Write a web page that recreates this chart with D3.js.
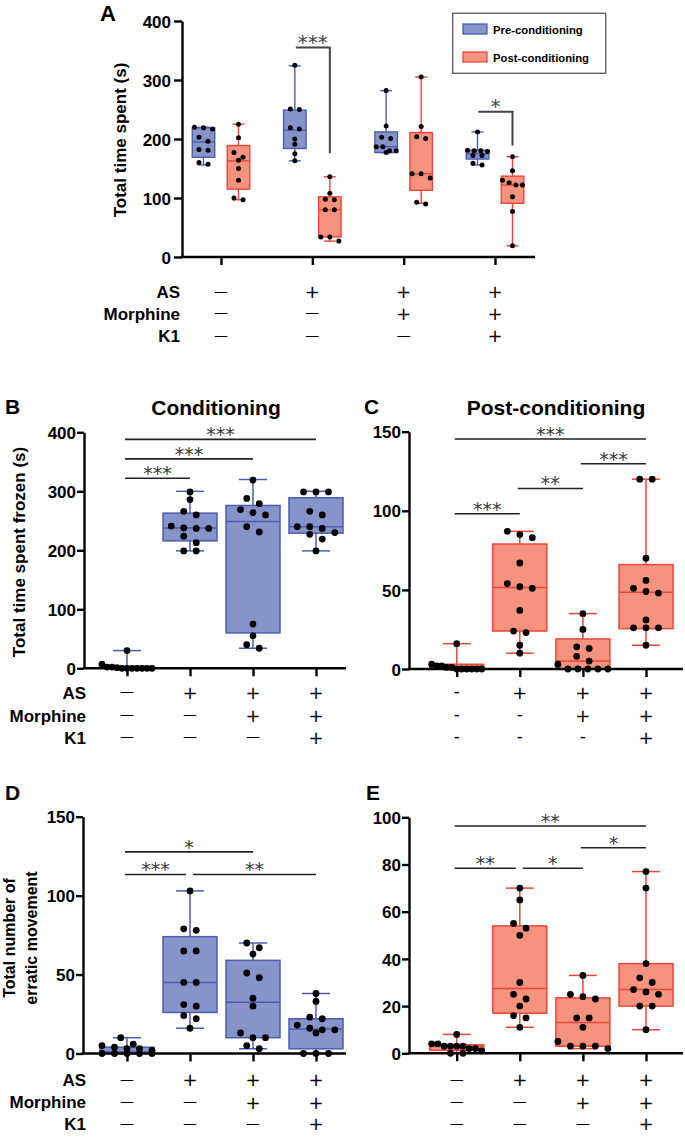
<!DOCTYPE html>
<html><head><meta charset="utf-8">
<script src="https://cdn.jsdelivr.net/npm/d3@7"></script>
<style>body{margin:0;background:#fff}svg{display:block}</style>
</head><body>
<svg id="chart" width="685" height="1139"></svg>
<script>
// ---------------- DATA ----------------
const groups = ["G1", "G2", "G3", "G4"];
const tableLabels = ["AS", "Morphine", "K1"];
const signsDash = [["—","+","+","+"],["—","—","+","+"],["—","—","—","+"]];
const signsHyphen = [["-","+","+","+"],["-","-","+","+"],["-","-","-","+"]];
const seriesNames = ["Pre-conditioning", "Post-conditioning"];

// Panel A : total time spent (s)
const aTicks = [0, 100, 200, 300, 400];
const aPrePoints = [[220,219,217,203,196,182,181,160,157],[325,250,251,217,219,200,191,175,163],[282,222,201,203,187,187,177,180,180],[212,179,180,180,181,172,172,156,159]];
const aPostPoints = [[225,202,177,169,164,150,130,97,100],[136,108,97,98,80,80,34,34,27],[305,221,201,204,141,141,134,90,93],[170,146,126,122,130,122,102,77,19]];
const aPreBox = [[156,169,195,219,220],[163,184,215,249,324],[177,177,187,212,282],[156,166,175,181,212]]; // min,q1,med,q3,max
const aPostBox = [[97,115,163,189,225],[27,34,80,102,136],[91,113,141,211,305],[19,91,122,137,170]];
const aSig = [{group:1, level:355, end:176, label:"***"},{group:3, level:246, end:189, label:"*"}];

// Panel B : Conditioning, time frozen (s)
const bTicks = [0, 100, 200, 300, 400];
const bPoints = [[30,7,2,2,1,0,0,0,0,0,0,0],[299,286,266,260,241,238,237,237,224,213,199,199],[319,288,279,269,264,260,240,231,75,55,40,34],[299,299,299,266,260,240,240,237,230,227,219,199]];
const bBox = [[0,0,1,3,30],[199,216,238,263,300],[34,60,249,276,320],[199,229,240,289,300]];
const bSig = [{a:0,b:3,level:388,label:"***"},{a:0,b:2,level:355,label:"***"},{a:0,b:1,level:322,label:"***"}];

// Panel C : Post-conditioning, time frozen (s)
const cTicks = [0, 50, 100, 150];
const cPoints = [[16,3,2,2,1,1,0,0,0,0,0,0],[87,85,83,67,54,52,51,37,24,23,15,10],[35,25,14,13,8,5,3,0,0,0,0,0],[120,120,70,56,51,49,48,31,26,26,26,15]];
const cBox = [[0,0,1,3,16],[10,24,51.5,79,87],[0,0,5,19,35],[15,25.5,48.5,66,120]];
const cSig = [{a:0,b:3,level:145.4,label:"***"},{a:2,b:3,level:129.7,label:"***"},{a:1,b:2,level:114.1,label:"**"},{a:0,b:1,level:98.1,label:"***"}];

// Panel D : erratic movement (Conditioning)
const dTicks = [0, 50, 100, 150];
const dPoints = [[10,6,5,4,3,3,2,0,0,0,0,0],[103,79,78,65,65,45,45,31,30,24,22,16],[70,67,63,51,48,35,30,13,10,10,5,3],[38,33,23,22,18,16,15,15,13,0,0,0]];
const dBox = [[0,0,1,4,10],[16,26,45,74,103],[3,10,32.5,59,70],[0,3,15.5,22,38]];
const dSig = [{a:0,b:2,level:127.7,label:"*"},{a:0,b:1,level:113.4,label:"***"},{a:1,b:3,level:113.4,label:"**"}];

// Panel E : erratic movement (Post-conditioning)
const eTicks = [0, 20, 40, 60, 80, 100];
const ePoints = [[8,4,4,3,3,3,3,2,2,1,0,0],[70,65,55,53,50,30,25,23,20,16,15,11],[33,25,24,23,15,15,11,5,3,3,3,2],[77,70,38,32,30,27,26,25,20,20,10]];
const eBox = [[0,1.3,3,3.6,8],[11,17,27.5,54,70],[2,3,13,23.5,33],[10,20,27,38,77]];
const eSig = [{a:0,b:3,level:96.3,label:"**"},{a:2,b:3,level:87.1,label:"*"},{a:0,b:1,level:78.4,label:"**"},{a:1,b:2,level:78.4,label:"*"}];

// ---------------- STYLE ----------------
const FONT = "'Liberation Sans', Arial, Helvetica, sans-serif";
const SYMFONT = "'DejaVu Sans', sans-serif";
const BLUE = {fill:"#8794ca", stroke:"#4b5db2"};
const RED = {fill:"#f5937f", stroke:"#ee4638"};

const svg = d3.select("#chart");

function swarm(values, y, spacing, maxW, thresh) {
  const sorted = values.map(v => ({v, py: y(v)})).sort((a, b) => a.py - b.py);
  const bins = [];
  sorted.forEach(p => {
    const b = bins[bins.length - 1];
    if (b && p.py - b[0].py < thresh) b.push(p); else bins.push([p]);
  });
  const out = [];
  bins.forEach(b => {
    const n = b.length;
    const s = n > 1 ? Math.min(spacing, maxW / (n - 1)) : 0;
    b.forEach((p, i) => out.push({v: p.v, dx: (i - (n - 1) / 2) * s}));
  });
  return out;
}

function drawBox(cx, y, stats, pts, col, st) {
  const [mn, q1, md, q3, mx] = stats;
  const g = svg.append("g");
  g.append("line").attr("x1", cx).attr("x2", cx).attr("y1", y(mx)).attr("y2", y(mn))
    .attr("stroke", col.stroke).attr("stroke-width", st.lw);
  [mn, mx].forEach(v => g.append("line").attr("x1", cx - st.cap / 2).attr("x2", cx + st.cap / 2)
    .attr("y1", y(v)).attr("y2", y(v)).attr("stroke", col.stroke).attr("stroke-width", st.lw));
  g.append("rect").attr("x", cx - st.w / 2).attr("y", y(q3)).attr("width", st.w)
    .attr("height", Math.max(0.5, y(q1) - y(q3)))
    .attr("fill", col.fill).attr("stroke", col.stroke).attr("stroke-width", st.lw);
  g.append("line").attr("x1", cx - st.w / 2).attr("x2", cx + st.w / 2).attr("y1", y(md)).attr("y2", y(md))
    .attr("stroke", col.stroke).attr("stroke-width", st.lw);
  g.selectAll("circle").data(swarm(pts, y, st.sp, st.maxW, st.r * 2.1)).join("circle")
    .attr("cx", d => cx + d.dx).attr("cy", d => y(d.v)).attr("r", st.r).attr("fill", "#000");
}

function drawYAxis(y, ax, ticks, pad, size) {
  const g = svg.append("g").attr("transform", `translate(${ax},0)`)
    .call(d3.axisLeft(y).tickValues(ticks).tickSize(size).tickSizeOuter(0).tickPadding(pad));
  g.select(".domain").attr("stroke", "#000").attr("stroke-width", 2.4);
  g.selectAll(".tick line").attr("stroke", "#000").attr("stroke-width", 2.4);
  g.selectAll(".tick text").attr("font-family", FONT).attr("font-weight", "bold")
    .attr("font-size", 17).attr("fill", "#000").attr("dy", "0.36em");
}

function drawXAxis(x, y0, xStart, xEnd) {
  svg.append("line").attr("x1", xStart).attr("x2", xEnd).attr("y1", y0).attr("y2", y0)
    .attr("stroke", "#000").attr("stroke-width", 2.4);
  const g = svg.append("g").attr("transform", `translate(0,${y0})`)
    .call(d3.axisBottom(x).tickSize(8).tickFormat(""));
  g.select(".domain").remove();
  g.selectAll(".tick line").attr("stroke", "#000").attr("stroke-width", 2.4);
}

function drawSig(x, y, sigs) {
  sigs.forEach(s => {
    const shareL = sigs.some(o => o !== s && o.level === s.level && o.b === s.a);
    const shareR = sigs.some(o => o !== s && o.level === s.level && o.a === s.b);
    const x1 = x(groups[s.a]) - 2 + (shareL ? 5 : 0);
    const x2 = x(groups[s.b]) + (shareR ? -4 : 0);
    const yy = y(s.level);
    svg.append("line").attr("x1", x1).attr("x2", x2).attr("y1", yy).attr("y2", yy)
      .attr("stroke", "#222").attr("stroke-width", 1.6);
    svg.append("text").attr("x", (x1 + x2) / 2).attr("y", yy + 2).attr("text-anchor", "middle")
      .attr("font-family", SYMFONT).attr("font-size", 19).attr("fill", "#3a3a3a").text(s.label);
  });
}

function drawTable(x, rowCenters, labels, labelX, signs) {
  rowCenters.forEach((rc, i) => {
    if (labels) svg.append("text").attr("x", labelX).attr("y", rc + 6).attr("text-anchor", "end")
      .attr("font-family", FONT).attr("font-weight", "bold").attr("font-size", 17).attr("fill", "#000")
      .text(labels[i]);
    signs[i].forEach((s, j) => {
      const isPlus = s === "+";
      const isDash = s === "—";
      const fs = isPlus ? 18 : (isDash ? 14 : 17);
      svg.append("text").attr("x", x(groups[j])).attr("y", rc + fs * (isPlus ? 0.37 : 0.28))
        .attr("text-anchor", "middle").attr("font-family", SYMFONT)
        .attr("font-size", fs).attr("fill", "#000").text(s);
    });
  });
}

function panelLetter(t, x, y, fs) {
  svg.append("text").attr("x", x).attr("y", y).attr("font-family", FONT).attr("font-weight", "bold")
    .attr("font-size", fs).attr("fill", "#000").text(t);
}
function title(t, x, y) {
  svg.append("text").attr("x", x).attr("y", y).attr("text-anchor", "middle").attr("font-family", FONT)
    .attr("font-weight", "bold").attr("font-size", 21).attr("fill", "#000").text(t);
}
function yTitle(lines, xs, cy, fs) {
  lines.forEach((l, i) => svg.append("text").attr("transform", `translate(${xs[i]},${cy}) rotate(-90)`)
    .attr("text-anchor", "middle").attr("font-family", FONT).attr("font-weight", "bold")
    .attr("font-size", fs).attr("fill", "#000").text(l));
}

// ---------------- PANEL A ----------------
{
  const y = d3.scaleLinear().domain([0, 400]).range([257, 21]);
  const x = d3.scalePoint().domain(groups).range([221, 495]);
  const sub = d3.scalePoint().domain(seriesNames).range([-17.5, 17.5]);
  const st = {w: 22.5, cap: 12, lw: 1.4, r: 2.5, sp: 9, maxW: 20};
  groups.forEach((gname, i) => {
    drawBox(x(gname) + sub(seriesNames[0]), y, aPreBox[i], aPrePoints[i], BLUE, st);
    drawBox(x(gname) + sub(seriesNames[1]), y, aPostBox[i], aPostPoints[i], RED, st);
  });
  drawYAxis(y, 182, aTicks, 3, 8);
  drawXAxis(x, 257, 180.8, 535);
  aSig.forEach(s => {
    const x1 = x(groups[s.group]) + sub(seriesNames[0]) + 1;
    const x2 = x(groups[s.group]) + sub(seriesNames[1]);
    svg.append("path").attr("d", `M${x1},${y(s.level)}H${x2}V${y(s.end)}`)
      .attr("fill", "none").attr("stroke", "#444").attr("stroke-width", 2);
    svg.append("text").attr("x", (x1 + x2) / 2).attr("y", y(s.level) + 1).attr("text-anchor", "middle")
      .attr("font-family", SYMFONT).attr("font-size", 20).attr("fill", "#444").text(s.label);
  });
  // legend
  const lg = svg.append("g");
  lg.append("rect").attr("x", 452.7).attr("y", 13.3).attr("width", 153).attr("height", 60)
    .attr("fill", "#fff").attr("stroke", "#555").attr("stroke-width", 1.3);
  [BLUE, RED].forEach((c, i) => {
    lg.append("rect").attr("x", 463).attr("y", 24 + i * 28).attr("width", 24).attr("height", 10)
      .attr("fill", c.fill).attr("stroke", c.stroke).attr("stroke-width", 1.3);
    lg.append("text").attr("x", 493).attr("y", 33.5 + i * 28).attr("font-family", FONT)
      .attr("font-weight", "bold").attr("font-size", 11.3).attr("fill", "#000").text(seriesNames[i]);
  });
  panelLetter("A", 100, 21, 22);
  yTitle(["Total time spent (s)"], [126], 140, 17);
  drawTable(x, [291.7, 313.5, 335.7], tableLabels, 180, signsDash);
}

// ---------------- PANEL B ----------------
const stBig = {w: 54, cap: 28, lw: 1.5, r: 3.4, sp: 12.5, maxW: 50};
{
  const y = d3.scaleLinear().domain([0, 400]).range([668.3, 432.3]);
  const x = d3.scalePoint().domain(groups).range([127, 316]);
  groups.forEach((g, i) => drawBox(x(g), y, bBox[i], bPoints[i], BLUE, stBig));
  drawYAxis(y, 84, bTicks, 1, 7);
  drawXAxis(x, 668.3, 82.8, 346);
  drawSig(x, y, bSig);
  panelLetter("B", 5, 414, 21);
  title("Conditioning", 216, 415);
  yTitle(["Total time spent frozen (s)"], [25], 552, 17);
  drawTable(x, [692.5, 715.5, 737.5], tableLabels, 86, signsDash);
}

// ---------------- PANEL C ----------------
{
  const y = d3.scaleLinear().domain([0, 150]).range([669, 431.7]);
  const x = d3.scalePoint().domain(groups).range([456.7, 646]);
  groups.forEach((g, i) => drawBox(x(g), y, cBox[i], cPoints[i], RED, stBig));
  drawYAxis(y, 409, cTicks, 1, 7);
  drawXAxis(x, 669, 407.8, 683);
  drawSig(x, y, cSig);
  panelLetter("C", 364, 414, 21);
  title("Post-conditioning", 556, 415);
  drawTable(x, [692.5, 715.5, 737.5], null, 0, signsHyphen);
}

// ---------------- PANEL D ----------------
{
  const y = d3.scaleLinear().domain([0, 150]).range([1053.5, 816.7]);
  const x = d3.scalePoint().domain(groups).range([127, 316]);
  groups.forEach((g, i) => drawBox(x(g), y, dBox[i], dPoints[i], BLUE, stBig));
  drawYAxis(y, 83, dTicks, 1, 7);
  drawXAxis(x, 1053.5, 81.8, 346);
  drawSig(x, y, dSig);
  panelLetter("D", 5, 800, 21);
  yTitle(["Total number of", "erratic movement"], [15, 37], 938, 16);
  drawTable(x, [1079.8, 1102.3, 1123.8], tableLabels, 86, signsDash);
}

// ---------------- PANEL E ----------------
{
  const y = d3.scaleLinear().domain([0, 100]).range([1053.3, 817.3]);
  const x = d3.scalePoint().domain(groups).range([456.7, 646]);
  groups.forEach((g, i) => drawBox(x(g), y, eBox[i], ePoints[i], RED, stBig));
  drawYAxis(y, 409, eTicks, 1, 7);
  drawXAxis(x, 1053.3, 407.8, 683);
  drawSig(x, y, eSig);
  panelLetter("E", 366, 800, 21);
  drawTable(x, [1079.8, 1102.3, 1123.8], null, 0, signsDash);
}
</script>
</body></html>
